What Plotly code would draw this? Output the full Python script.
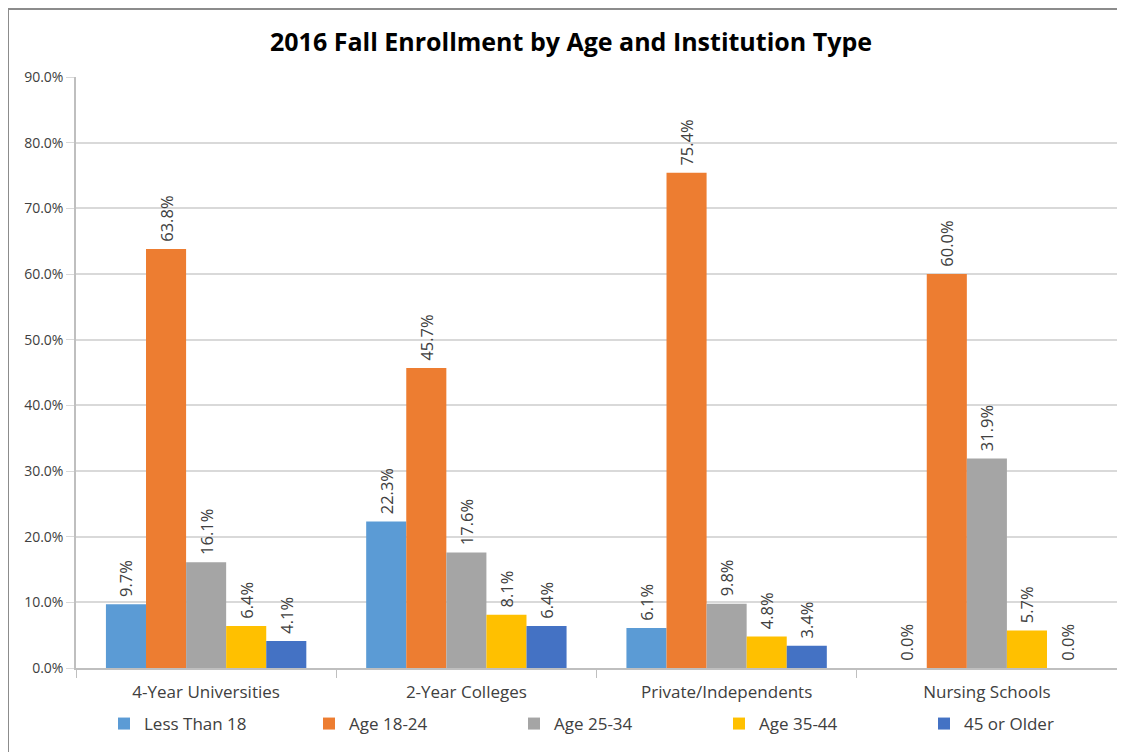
import plotly.graph_objects as go

categories = ["4-Year Universities", "2-Year Colleges", "Private/Independents", "Nursing Schools"]
series_names = ["Less Than 18", "Age 18-24", "Age 25-34", "Age 35-44", "45 or Older"]
less_than_18 = [9.7, 22.3, 6.1, 0.0]
age_18_24 = [63.8, 45.7, 75.4, 60.0]
age_25_34 = [16.1, 17.6, 9.8, 31.9]
age_35_44 = [6.4, 8.1, 4.8, 5.7]
older_45 = [4.1, 6.4, 3.4, 0.0]
y_ticks = [0, 10, 20, 30, 40, 50, 60, 70, 80, 90]
y_tick_labels = ["0.0%", "10.0%", "20.0%", "30.0%", "40.0%", "50.0%", "60.0%", "70.0%", "80.0%", "90.0%"]

colors = ["#5B9BD5", "#ED7D31", "#A5A5A5", "#FFC000", "#4472C4"]
series_values = [less_than_18, age_18_24, age_25_34, age_35_44, older_45]

FONT = "Open Sans, Liberation Sans, sans-serif"

fig = go.Figure()
for name, vals, col in zip(series_names, series_values, colors):
    fig.add_trace(go.Bar(
        name=name, x=categories, y=vals,
        marker=dict(color=col, line=dict(width=0)),
        text=["\u00a0" + f"{v:.1f}%" for v in vals],
        textposition="outside", textangle=-90, constraintext="none",
        textfont=dict(size=16.5, color="#404040", family=FONT),
        cliponaxis=False,
    ))

# page is offset by 8px body margin; coordinates below are figure coordinates
W, H = 1125, 752
l, r, t, b = 68, 16, 69, 92
pw = W - l - r
ph = H - t - b

fig.update_layout(
    width=W, height=H,
    margin=dict(l=l, r=r, t=t, b=b, autoexpand=False),
    paper_bgcolor="white", plot_bgcolor="white",
    barmode="group", bargap=0.23, bargroupgap=0,
    title=dict(text="<b>2016 Fall Enrollment by Age and Institution Type</b>",
               x=(571 - 8) / W, xanchor="center", y=1 - 34 / H, yanchor="middle",
               font=dict(size=25, color="#000000", family=FONT)),
    font=dict(family=FONT, color="#595959"),
    legend=dict(orientation="h", x=(118 - 16 - l - 6) / pw, xanchor="left",
                y=-(716 - (t + ph)) / ph, yanchor="middle",
                font=dict(size=17, color="#404040", family=FONT),
                itemwidth=30, traceorder="normal", entrywidth=160),
    xaxis=dict(showline=True, linecolor="#BFBFBF", linewidth=1.5,
               ticks="outside", tickson="boundaries", ticklen=8, tickcolor="#BFBFBF",
               ticklabelstandoff=8,
               tickfont=dict(size=17, color="#404040", family=FONT), showgrid=False),
    yaxis=dict(range=[0, 90], tickvals=y_ticks, ticktext=y_tick_labels,
               showline=True, linecolor="#BFBFBF", linewidth=1.5,
               ticks="outside", ticklen=8, tickcolor="#D9D9D9",
               showgrid=True, gridcolor="#D9D9D9", gridwidth=1.5, zeroline=False,
               tickfont=dict(size=14, color="#404040", family=FONT)),
    shapes=[dict(type="rect", xref="paper", yref="paper",
                 x0=(0 - l) / pw, x1=(W + 10 - l) / pw,
                 y0=-(H + 10 - (t + ph)) / ph, y1=1 + (t - 1) / ph,
                 line=dict(color="#8C8C8C", width=2), layer="below")],
)

fig.write_html("out.html")
